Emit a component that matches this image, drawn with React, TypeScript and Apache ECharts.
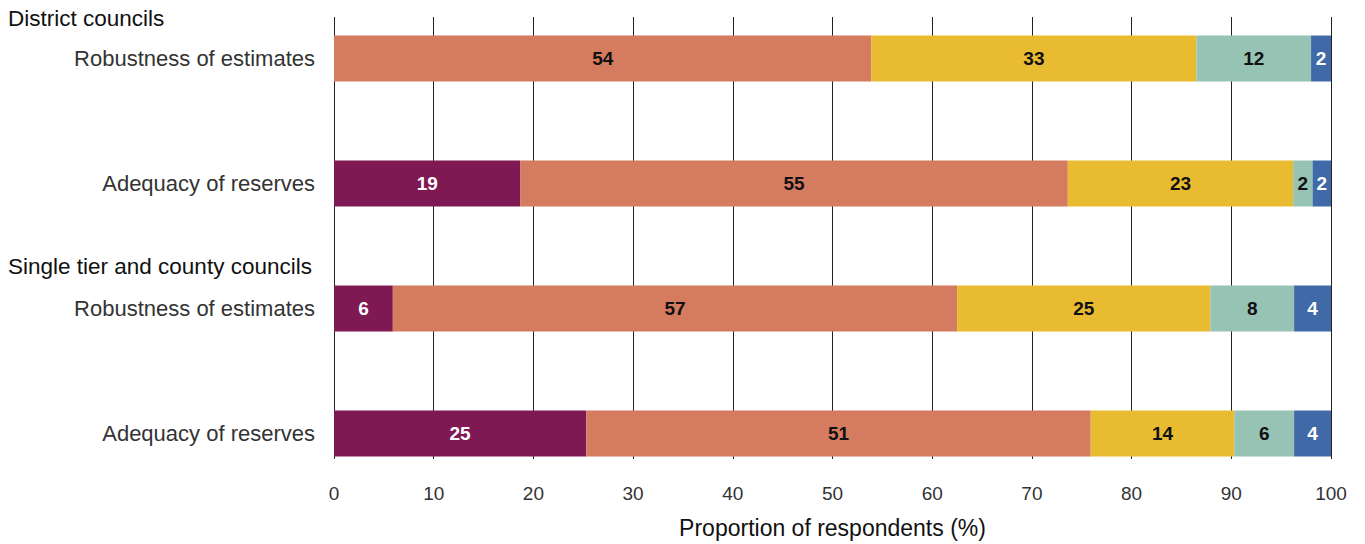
import React, { useEffect, useRef } from "react";
import * as echarts from "echarts";

// Rows from top to bottom; the two group headings sit above rows 0 and 2.
const rowIds = ["d-robust", "d-reserves", "s-robust", "s-reserves"];
const rowLabels = [
  "Robustness of estimates",
  "Adequacy of reserves",
  "Robustness of estimates",
  "Adequacy of reserves",
];
const groupHeadings = ["District councils", "Single tier and county councils"];

// Share of respondents (%) per response level, one value per row.
const seriesNames = [
  "Very confident",
  "Fairly confident",
  "Not very confident",
  "Not at all confident",
  "Don't know",
];
const veryConfident = [0, 18.7, 5.9, 25.3];
const fairlyConfident = [53.9, 54.9, 56.6, 50.6];
const notVeryConfident = [32.6, 22.6, 25.4, 14.4];
const notAtAllConfident = [11.5, 1.95, 8.4, 6.0];
const dontKnow = [2.0, 1.85, 3.7, 3.7];

const seriesValues = [veryConfident, fairlyConfident, notVeryConfident, notAtAllConfident, dontKnow];
const seriesColors = ["#7f1954", "#d57b5f", "#e9bb30", "#96c3b4", "#3f6aa7"];
const labelColors = ["#ffffff", "#111111", "#111111", "#111111", "#ffffff"];

const xTicks = [0, 100, 10]; // min, max, interval

const FONT = "'Liberation Sans', Arial, Helvetica, sans-serif";

export default function App() {
  const ref = useRef<HTMLDivElement>(null);

  useEffect(() => {
    if (!ref.current) return;
    const chart = echarts.init(ref.current, null, { renderer: "svg" });

    const left = 334;
    const right = 34;

    const option: echarts.EChartsOption = {
      animation: false,
      textStyle: { fontFamily: FONT },
      grid: [
        // Frame for the vertical grid lines and the value axis
        { left, right, top: 17, height: 454, containLabel: false },
        // Frame for the bars: row centres at the first and last category
        { left, right, top: 58.5, height: 375, containLabel: false },
      ],
      xAxis: [
        {
          type: "value",
          gridIndex: 0,
          position: "bottom",
          min: xTicks[0],
          max: xTicks[1],
          interval: xTicks[2],
          axisLine: { show: false, onZero: false },
          axisTick: { show: false },
          splitLine: { show: true, lineStyle: { color: "#222222", width: 1 } },
          axisLabel: { fontSize: 19, color: "#333333", margin: 25, fontFamily: FONT },
          name: "Proportion of respondents (%)",
          nameLocation: "middle",
          nameGap: 57,
          nameTextStyle: { fontSize: 23, color: "#111111", fontFamily: FONT },
        },
        {
          type: "value",
          gridIndex: 1,
          min: xTicks[0],
          max: xTicks[1],
          show: false,
        },
      ],
      yAxis: [
        { type: "value", gridIndex: 0, min: 0, max: 1, show: false },
        {
          type: "category",
          gridIndex: 1,
          data: rowIds,
          inverse: true,
          boundaryGap: false,
          axisLine: { show: false },
          axisTick: { show: false },
          splitLine: { show: false },
          axisLabel: {
            fontSize: 22,
            color: "#333333",
            margin: 19,
            fontFamily: FONT,
            formatter: (_v: string, i: number) => rowLabels[i],
          },
        },
      ],
      graphic: [
        {
          type: "text",
          left: 8,
          top: 7,
          style: { text: groupHeadings[0], fontSize: 22.5, fill: "#111111", fontFamily: FONT },
        },
        {
          type: "text",
          left: 8,
          top: 255,
          style: { text: groupHeadings[1], fontSize: 22.5, fill: "#111111", fontFamily: FONT },
        },
      ],
      series: seriesNames.map((name, si) => ({
        name,
        type: "bar",
        stack: "total",
        xAxisIndex: 1,
        yAxisIndex: 1,
        barWidth: 46,
        data: seriesValues[si],
        itemStyle: { color: seriesColors[si] },
        label: {
          show: true,
          position: "inside",
          color: labelColors[si],
          fontSize: 19,
          fontWeight: "bold",
          fontFamily: FONT,
          formatter: (p: any) => (p.value > 0 ? String(Math.round(p.value)) : ""),
        },
      })),
    };

    chart.setOption(option);
    return () => chart.dispose();
  }, []);

  return (
    <div
      ref={ref}
      style={{ position: "fixed", left: 0, top: 0, width: 1365, height: 544, background: "#ffffff" }}
    />
  );
}
